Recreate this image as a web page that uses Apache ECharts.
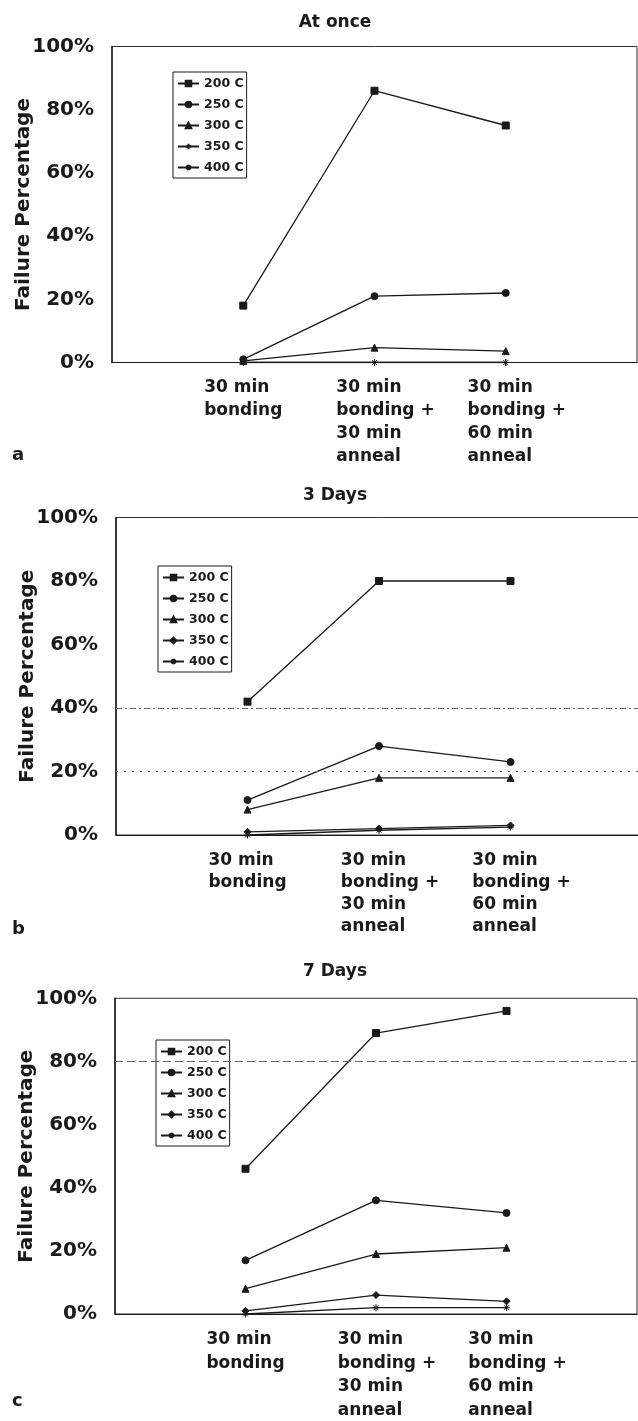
<!DOCTYPE html>
<html>
<head>
<meta charset="utf-8">
<script src="https://cdn.jsdelivr.net/npm/echarts@6/dist/echarts.min.js"></script>
<style>
body { margin: 0; background: #fff; }
.panel { position: absolute; left: 0; width: 638px; }
</style>
</head>
<body>
<div id="chartA" class="panel" style="top: 0; height: 470px"></div>
<div id="chartB" class="panel" style="top: 470px; height: 470px"></div>
<div id="chartC" class="panel" style="top: 940px; height: 481px"></div>
<script>
// blank first / last category keeps the three points at 1/4, 2/4, 3/4 of the box
const categories = [
  "",
  "30 min\nbonding",
  "30 min\nbonding +\n30 min\nanneal",
  "30 min\nbonding +\n60 min\nanneal",
  "",
];
const seriesNames = ["200 C", "250 C", "300 C", "350 C", "400 C"];
const yTicks = [0, 20, 40, 60, 80, 100];

// failure % per temperature (rows follow seriesNames)
const atOnceData = [
  [18, 86, 75],
  [1, 21, 22],
  [0.5, 4.7, 3.6],
  [0, 0, 0],
  [0, 0, 0],
];
const days3Data = [
  [42, 80, 80],
  [11, 28, 23],
  [8, 18, 18],
  [1, 2, 3],
  [0, 1.5, 2.5],
];
const days7Data = [
  [46, 89, 96],
  [17, 36, 32],
  [8, 19, 21],
  [1, 6, 4],
  [0, 2, 2],
];

// faint scan lines across the plot
const days3RefLines = [40, 20];
const days7RefLines = [80];

const PLUS = "path://M4,0V8M0,4H8";
const STAR = "path://M4,0V8M0,4H8M1.2,1.2L6.8,6.8M6.8,1.2L1.2,6.8";
const FONT = "DejaVu Sans";
const INK = "#1a1a1a";

const panels = [
  {
    el: "chartA", title: "At once", letter: "a", data: atOnceData, refLines: [],
    symbols: ["rect", "circle", "triangle", PLUS, STAR],
    titleTop: 9, gridTop: 46.5, gridHeight: 316, gridLeft: 112, gridRight: 1,
    legendLeft: 173, legendTop: 72, lineHeight: 23, letterTop: 446,
  },
  {
    el: "chartB", title: "3 Days", letter: "b", data: days3Data, refLines: days3RefLines,
    symbols: ["rect", "circle", "triangle", "diamond", STAR],
    titleTop: 12, gridTop: 47.5, gridHeight: 317.5, gridLeft: 116, gridRight: -4,
    legendLeft: 158, legendTop: 96, lineHeight: 22.2, letterTop: 450,
  },
  {
    el: "chartC", title: "7 Days", letter: "c", data: days7Data, refLines: days7RefLines,
    symbols: ["rect", "circle", "triangle", "diamond", STAR],
    titleTop: 18, gridTop: 58.3, gridHeight: 315.7, gridLeft: 115, gridRight: 1,
    legendLeft: 156, legendTop: 100, lineHeight: 23.6, letterTop: 452,
  },
];

const labelStyle = (lh, padLeft) => ({
  align: "left",
  fontFamily: FONT,
  fontSize: 17,
  fontWeight: "bold",
  color: INK,
  lineHeight: lh,
  padding: [0, 0, 0, padLeft],
});

const refLineType = (v) => {
  if (v === 40) return [6, 3, 2, 3];
  if (v === 20) return [2, 6];
  return [8, 4];
};

const initPanel = (p) => {
  const chart = echarts.init(document.getElementById(p.el));
  const series = seriesNames.map((name, i) => {
    const s = {
      name: name,
      type: "line",
      data: ["-", ...p.data[i], "-"],
      symbol: p.symbols[i],
      symbolSize: 7,
      lineStyle: { color: INK, width: 1.3 },
      itemStyle: { color: INK, borderColor: INK, borderWidth: 1 },
      animation: false,
    };
    if (i === 0 && p.refLines.length) {
      s.markLine = {
        silent: true,
        symbol: "none",
        label: { show: false },
        data: p.refLines.map((v) => ({
          yAxis: v,
          lineStyle: { color: "#666", width: 1, type: refLineType(v) },
        })),
      };
    }
    return s;
  });
  const option = {
    backgroundColor: "#fff",
    title: {
      text: p.title,
      left: 330,
      top: p.titleTop,
      textAlign: "center",
      textStyle: { fontFamily: FONT, fontSize: 17, fontWeight: "bold", color: INK },
    },
    legend: {
      orient: "vertical",
      left: p.legendLeft,
      top: p.legendTop,
      itemWidth: 21,
      itemHeight: 7,
      itemGap: 8,
      padding: [5, 3, 4, 4],
      borderColor: INK,
      borderWidth: 1,
      textStyle: { fontFamily: FONT, fontSize: 12.5, fontWeight: "bold", color: INK },
      data: seriesNames,
    },
    grid: {
      left: p.gridLeft,
      right: p.gridRight,
      top: p.gridTop,
      height: p.gridHeight,
      outerBoundsMode: "none",
      containLabel: false,
      show: true,
      borderColor: "#333",
      borderWidth: 1,
    },
    xAxis: {
      type: "category",
      data: categories,
      boundaryGap: false,
      axisLine: { show: true, lineStyle: { color: INK, width: 1.2 } },
      axisTick: { show: false },
      axisLabel: {
        interval: 0,
        margin: 14,
        formatter: (value, index) => {
          if (!value) return "";
          const st = index === 1 ? "a" : "b";
          return value.split("\n").map((s) => `{${st}|${s}}`).join("\n");
        },
        rich: { a: labelStyle(p.lineHeight, 0), b: labelStyle(p.lineHeight, 22) },
      },
    },
    yAxis: {
      type: "value",
      min: yTicks[0],
      max: yTicks[yTicks.length - 1],
      interval: 20,
      name: "Failure Percentage",
      nameLocation: "middle",
      nameGap: 78,
      nameMoveOverlap: false,
      nameTextStyle: { fontFamily: FONT, fontSize: 20, fontWeight: "bold", color: INK },
      axisLine: { show: true, lineStyle: { color: INK, width: 1.5 } },
      axisTick: { show: false },
      splitLine: { show: false },
      axisLabel: {
        formatter: "{value}%",
        margin: 18,
        fontFamily: FONT,
        fontSize: 20,
        fontWeight: "bold",
        color: INK,
      },
    },
    graphic: [
      {
        type: "text",
        left: 12,
        top: p.letterTop,
        style: { text: p.letter, font: 'bold 18px "DejaVu Sans"', fill: INK },
      },
    ],
    series: series,
  };
  chart.setOption(option);
};

panels.forEach(initPanel);
</script>
</body>
</html>
